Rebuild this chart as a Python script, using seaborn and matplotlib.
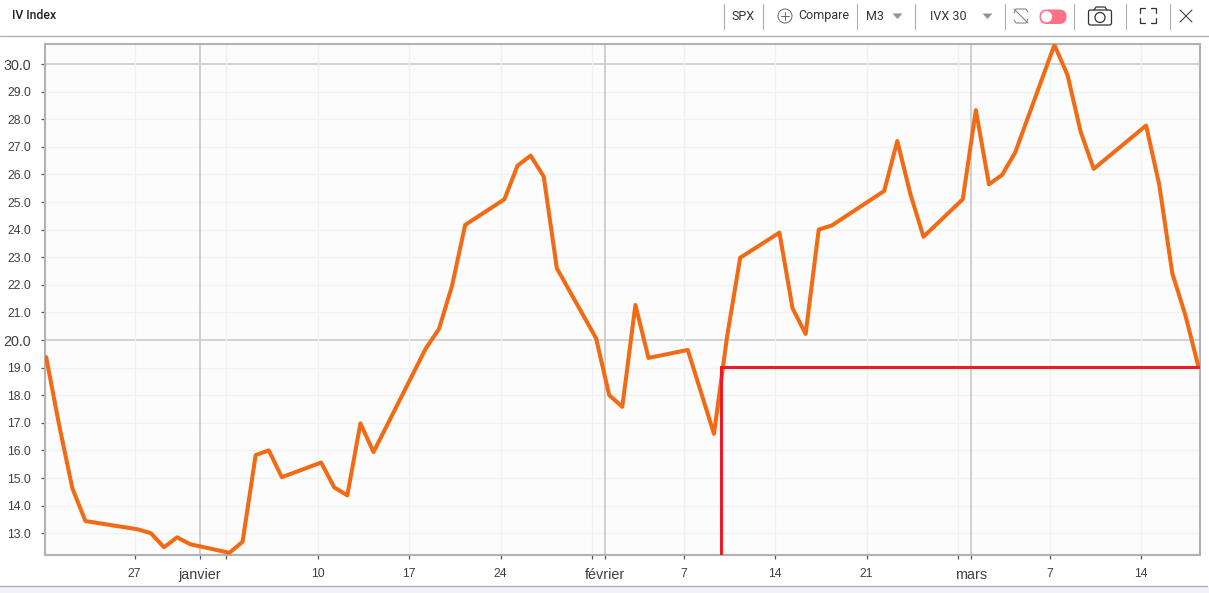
import matplotlib
matplotlib.use("Agg")
import matplotlib.pyplot as plt
import matplotlib.dates as mdates
import seaborn as sns
import pandas as pd
from matplotlib.patches import Circle, FancyBboxPatch, Polygon, Rectangle

dates = ["2021-12-20","2021-12-21","2021-12-22","2021-12-23","2021-12-27","2021-12-28","2021-12-29","2021-12-30","2021-12-31",
 "2022-01-03","2022-01-04","2022-01-05","2022-01-06","2022-01-07","2022-01-10","2022-01-11","2022-01-12","2022-01-13","2022-01-14",
 "2022-01-18","2022-01-19","2022-01-20","2022-01-21","2022-01-24","2022-01-25","2022-01-26","2022-01-27","2022-01-28",
 "2022-01-31","2022-02-01","2022-02-02","2022-02-03","2022-02-04","2022-02-07","2022-02-09","2022-02-10","2022-02-11",
 "2022-02-14","2022-02-15","2022-02-16","2022-02-17","2022-02-18","2022-02-22","2022-02-23","2022-02-24","2022-02-25",
 "2022-02-28","2022-03-01","2022-03-02","2022-03-03","2022-03-04","2022-03-07","2022-03-08","2022-03-09","2022-03-10",
 "2022-03-14","2022-03-15","2022-03-16","2022-03-17","2022-03-18"]
iv = [19.38,16.9,14.63,13.44,13.14,13.0,12.49,12.85,12.6,
 12.29,12.69,15.83,16.0,15.03,15.56,14.66,14.37,16.98,15.94,
 19.7,20.4,21.97,24.17,25.1,26.32,26.68,25.92,22.6,
 20.06,18.0,17.58,21.27,19.35,19.64,16.6,20.12,22.98,
 23.89,21.15,20.22,24.0,24.15,25.4,27.21,25.29,23.74,
 25.1,28.33,25.64,25.98,26.79,30.69,29.6,27.55,26.2,
 27.77,25.64,22.42,20.9,19.03]
marker_date = "2022-02-09 20:30"
marker_level = 19.03
week_ticks = ["2021-12-27","2022-01-03","2022-01-10","2022-01-17","2022-01-24","2022-01-31","2022-02-07","2022-02-14","2022-02-21","2022-02-28","2022-03-07","2022-03-14"]
week_labels = ["27","","10","17","24","","7","14","21","","7","14"]
month_ticks = ["2022-01-01","2022-02-01","2022-03-01"]
month_labels = ["janvier","février","mars"]

sns.set_theme(style="white")
plt.rcParams["font.family"] = ["Liberation Sans", "DejaVu Sans"]
W, H = 1209, 593
fig = plt.figure(figsize=(W/100, H/100), dpi=100, facecolor="white")
L, R, T, B = 45, 1200, 44, 555
ax = fig.add_axes([L/W, 1-B/H, (R-L)/W, (B-T)/H], facecolor="#fcfcfc")

# the sessions sit a few hours after midnight, drifting slightly along the axis
stamps = pd.to_datetime(dates)
drift = (stamps - stamps[0]).days * 0.045 + 5.5
df = pd.DataFrame({"date": stamps + pd.to_timedelta(drift, unit="h"), "iv": iv})
sns.lineplot(data=df, x="date", y="iv", ax=ax, color="#f26a14", linewidth=2.9, zorder=4, solid_joinstyle="round")
ax.set_xlabel(""); ax.set_ylabel("")

d0 = mdates.date2num(pd.Timestamp("2022-01-01"))
ax.set_xlim(d0 + (L-200)/13.07, d0 + (R-200)/13.07)
ax.set_ylim(30-(B-64)/27.6, 30+(64-T)/27.6)

# markers
m = pd.Timestamp(marker_date)
ax.plot([m, m, mdates.num2date(ax.get_xlim()[1]).replace(tzinfo=None)], [ax.get_ylim()[0], marker_level, marker_level],
        color="#ed1c24", lw=2.2, zorder=5, solid_joinstyle="miter")

# y axis
minor_y = [v for v in range(13, 31) if v not in (20, 30)]
major_y = [20, 30]
ax.set_yticks(minor_y + major_y)
ax.set_yticklabels([f"{v:.1f}" for v in minor_y + major_y])
for lab, v in zip(ax.get_yticklabels(), minor_y + major_y):
    lab.set_fontsize(10.4 if v in major_y else 8.8)
    lab.set_color("#404040")
ax.tick_params(axis="y", left=True, length=3.2, width=0.9, color="#555555", pad=7)

# x axis
wt = list(pd.to_datetime(week_ticks)); mt = list(pd.to_datetime(month_ticks))
ax.set_xticks(wt + mt)
ax.set_xticklabels(week_labels + month_labels)
for i, lab in enumerate(ax.get_xticklabels()):
    lab.set_fontsize(8.8 if i < len(wt) else 10.4)
    lab.set_color("#404040")
ax.tick_params(axis="x", bottom=True, length=3.2, width=0.9, color="#555555", pad=6.5)

# grid
for v in minor_y:
    ax.axhline(v, color="#f1f1f1", lw=0.9, zorder=1)
for v in major_y:
    ax.axhline(v, color="#cdcdcd", lw=1.2, zorder=1)
for t in wt:
    ax.axvline(t, color="#f1f1f1", lw=0.9, zorder=1)
for t in mt:
    ax.axvline(t, color="#c8c8c8", lw=1.2, zorder=1)
for s in ax.spines.values():
    s.set_visible(True); s.set_color("#b2b2b2"); s.set_linewidth(1.5)

# application chrome in pixel coordinates
ov = fig.add_axes([0, 0, 1, 1], facecolor="none", zorder=10)
ov.set_xlim(0, W); ov.set_ylim(H, 0); ov.axis("off")
grey = "#ababab"; ink = "#333333"
ov.plot([0, W], [36, 36], color=grey, lw=0.9)
ov.plot([0, 1207], [586, 586], color=grey, lw=0.9)
ov.add_patch(Rectangle((0, 587), W, 6, color="#f0f0f6", lw=0))
ov.text(12, 15.5, "IV Index", fontsize=8.8, color="#222222", va="center", family=["Roboto", "DejaVu Sans"], weight="medium")
for x in [724, 763, 857, 915, 1005, 1074, 1126, 1170]:
    ov.plot([x, x], [4, 29], color=grey, lw=0.8)
tb = dict(fontsize=9, color=ink, va="center", ha="center", family=["Roboto", "DejaVu Sans"])
ov.text(743, 16, "SPX", **tb)
ov.text(824, 16, "Compare", **tb)
ov.text(875, 16, "M3", **tb)
ov.text(948.5, 16, "IVX 30", **tb)
ov.add_patch(Circle((785, 16), 7, fill=False, ec="#666666", lw=0.7))
ov.plot([781, 789], [16, 16], color="#666666", lw=0.7); ov.plot([785, 785], [12, 20], color="#666666", lw=0.7)
for cx in (897.5, 987.5):
    ov.add_patch(Polygon([(cx-5, 13.5), (cx+5, 13.5), (cx, 19)], color="#8d93a5", lw=0))
# sync icon
ov.plot([1014, 1028], [9, 23], color="#777777", lw=0.7)
ov.plot([1014, 1016, 1026, 1028], [13, 9, 9, 12], color="#777777", lw=0.7)
ov.plot([1014, 1016, 1026, 1028], [20, 23, 23, 19], color="#777777", lw=0.7)
# toggle
ov.add_patch(FancyBboxPatch((1039.5, 9.5), 27, 14.5, boxstyle="round,pad=0,rounding_size=7.2", fc="#fb7185", ec="none", lw=0))
ov.add_patch(Circle((1046.5, 16.7), 5.6, color="white", lw=0))
# camera
ov.add_patch(FancyBboxPatch((1088.5, 10), 23, 15, boxstyle="round,pad=0,rounding_size=2", fill=False, ec="#333333", lw=0.9))
ov.plot([1094, 1096, 1105, 1107], [10, 7, 7, 10], color="#333333", lw=0.9)
ov.add_patch(Circle((1100, 17.5), 5, fill=False, ec="#333333", lw=0.9))
# fullscreen
for xs, ys in [([1140, 1140, 1145], [13, 8, 8]), ([1151, 1156, 1156], [8, 8, 13]),
               ([1140, 1140, 1145], [18, 23, 23]), ([1151, 1156, 1156], [23, 23, 18])]:
    ov.plot(xs, ys, color="#333333", lw=0.9)
# close
ov.plot([1180, 1192], [10, 22], color="#444444", lw=0.8); ov.plot([1180, 1192], [22, 10], color="#444444", lw=0.8)

fig.savefig("out.png", dpi=100)
